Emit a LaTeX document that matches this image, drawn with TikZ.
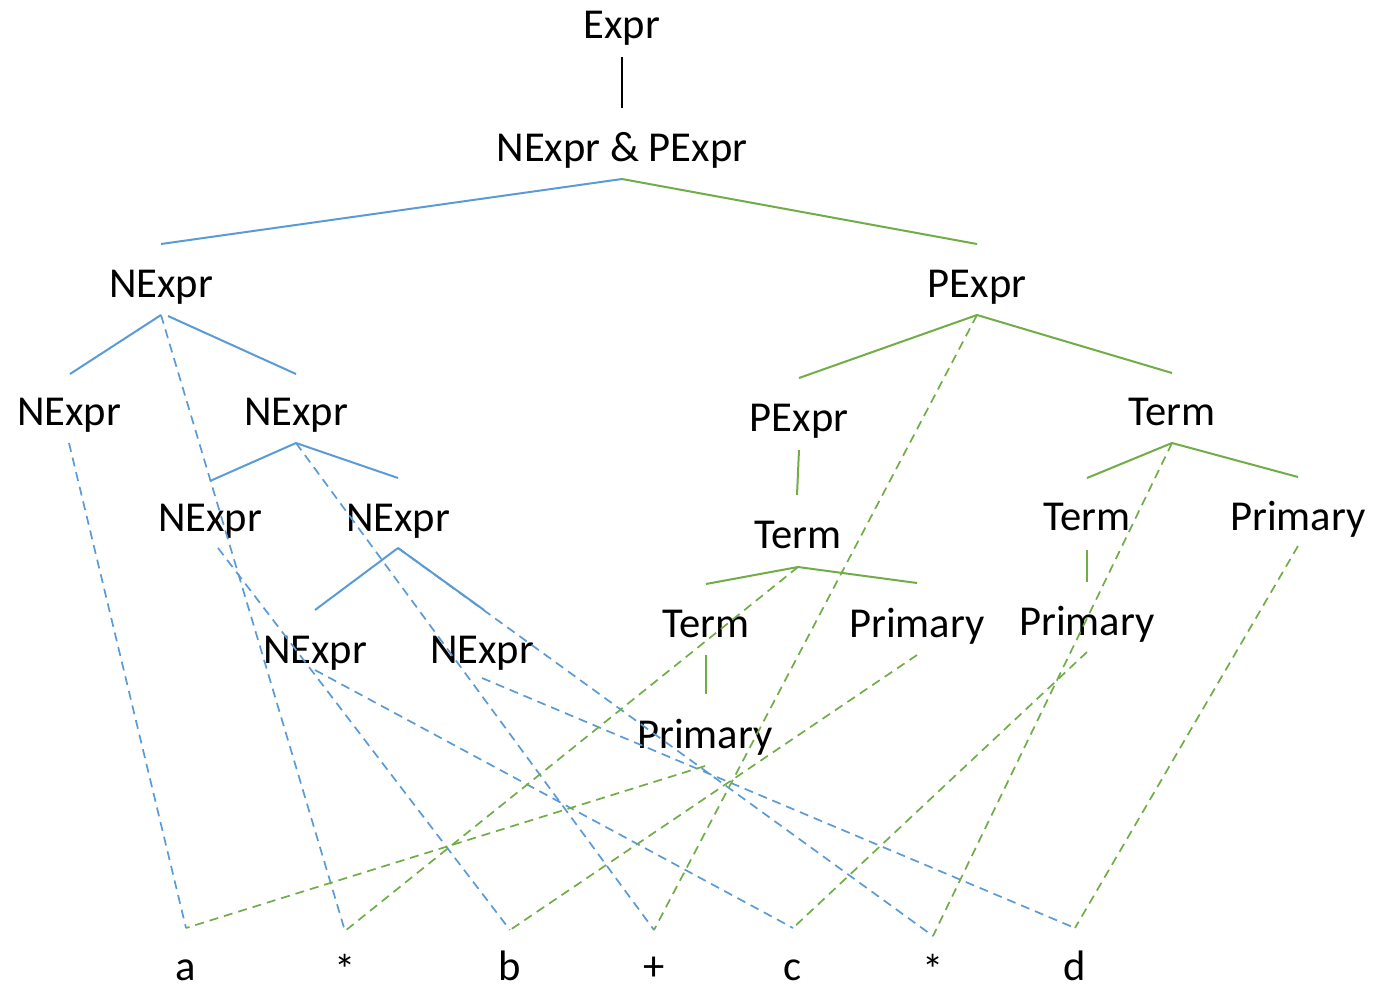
\documentclass[tikz,border=0pt]{standalone}
\usepackage{fontspec}
\setmainfont{Carlito}
\definecolor{nblue}{HTML}{5B9BD5}
\definecolor{pgreen}{HTML}{70AD47}
\begin{document}
\begin{tikzpicture}[x=0.5pt,y=-0.5pt,
  lbl/.style={anchor=base, inner sep=0pt, font=\fontsize{21.3}{25}\selectfont},
  stem/.style={draw=black, line width=1pt},
  nsolid/.style={draw=nblue, line width=1pt},
  psolid/.style={draw=pgreen, line width=1pt},
  ndash/.style={draw=nblue, line width=0.85pt, dash pattern=on 4.5pt off 3pt},
  pdash/.style={draw=pgreen, line width=0.85pt, dash pattern=on 4.5pt off 3pt}]
\useasboundingbox (0,0) rectangle (1383,986);

% labels
\node[lbl] (expr) at (622,38) {Expr};
\node[lbl] (both) at (622,161) {NExpr \& PExpr};
\node[lbl] (n1) at (161,297) {NExpr};
\node[lbl] (p1) at (977,297) {PExpr};
\node[lbl] (n2a) at (69,425) {NExpr};
\node[lbl] (n2b) at (296,425) {NExpr};
\node[lbl] (p2a) at (799,431) {PExpr};
\node[lbl] (t2b) at (1172,425) {Term};
\node[lbl] (n3a) at (210,531) {NExpr};
\node[lbl] (n3b) at (398,531) {NExpr};
\node[lbl] (t3a) at (798,548) {Term};
\node[lbl] (t3b) at (1087,530) {Term};
\node[lbl] (pr3c) at (1298,530) {Primary};
\node[lbl] (n4a) at (315,663) {NExpr};
\node[lbl] (n4b) at (482,663) {NExpr};
\node[lbl] (t4a) at (706,637) {Term};
\node[lbl] (pr4b) at (917,637) {Primary};
\node[lbl] (pr4c) at (1087,635) {Primary};
\node[lbl] (pr5) at (705,748) {Primary};
\node[lbl] (ta) at (186,980) {a};
\node[lbl] (tm1) at (345,984) {*};
\node[lbl] (tb) at (510,980) {b};
\node[lbl] (tp) at (654,980) {+};
\node[lbl] (tc) at (793,980) {c};
\node[lbl] (tm2) at (933,984) {*};
\node[lbl] (td) at (1075,980) {d};

% connector ends
\coordinate (expr-d) at (622,57);
\coordinate (both-u) at (622,108);
\coordinate (both-d) at (622,179);
\coordinate (n1-u) at (161,244);
\coordinate (p1-u) at (977,244);
\coordinate (n1-d) at (161,315);
\coordinate (n1-dr) at (168,316);
\coordinate (p1-d) at (977,315);
\coordinate (n2a-u) at (70,374);
\coordinate (n2b-u) at (296,374);
\coordinate (p2a-u) at (799,378);
\coordinate (t2b-u) at (1172,373);
\coordinate (n2a-d) at (69,443);
\coordinate (n2b-d) at (296,443);
\coordinate (p2a-d) at (799,450);
\coordinate (t2b-d) at (1172,443);
\coordinate (n3a-u) at (210,481);
\coordinate (n3b-u) at (398,478);
\coordinate (t3a-u) at (797,495);
\coordinate (t3b-u) at (1087,478);
\coordinate (pr3c-u) at (1298,477);
\coordinate (n3a-d) at (218,548);
\coordinate (n3b-d) at (398,548);
\coordinate (t3a-d) at (798,567);
\coordinate (t3b-d) at (1087,550);
\coordinate (pr3c-d) at (1298,546);
\coordinate (n4a-u) at (315,610);
\coordinate (n4b-u) at (484,610);
\coordinate (t4a-u) at (706,584);
\coordinate (pr4b-u) at (917,583);
\coordinate (pr4c-u) at (1087,582);
\coordinate (n4a-d) at (315,670);
\coordinate (n4b-d) at (482,678);
\coordinate (t4a-d) at (706,655);
\coordinate (pr4b-d) at (917,655);
\coordinate (pr4c-d) at (1087,652);
\coordinate (pr5-u) at (706,694);
\coordinate (pr5-d) at (705,766);
\coordinate (ta-u) at (186,928);
\coordinate (tm1-u) at (345,931);
\coordinate (tb-u) at (510,930);
\coordinate (tp-u) at (654,930);
\coordinate (tc-u) at (793,928);
\coordinate (tm2-u) at (933,936);
\coordinate (td-u) at (1075,928);

% top stem
\draw[stem] (expr-d) -- (both-u);

% NExpr tree
\draw[nsolid] (both-d) -- (n1-u);
\draw[nsolid] (n1-d) -- (n2a-u);
\draw[nsolid] (n1-dr) -- (n2b-u);
\draw[nsolid] (n2b-d) -- (n3a-u);
\draw[nsolid] (n2b-d) -- (n3b-u);
\draw[nsolid] (n3b-d) -- (n4a-u);
\draw[nsolid] (n3b-d) -- (n4b-u);

% PExpr tree
\draw[psolid] (both-d) -- (p1-u);
\draw[psolid] (p1-d) -- (p2a-u);
\draw[psolid] (p1-d) -- (t2b-u);
\draw[psolid] (p2a-d) -- (t3a-u);
\draw[psolid] (t2b-d) -- (t3b-u);
\draw[psolid] (t2b-d) -- (pr3c-u);
\draw[psolid] (t3a-d) -- (t4a-u);
\draw[psolid] (t3a-d) -- (pr4b-u);
\draw[psolid] (t3b-d) -- (pr4c-u);
\draw[psolid] (t4a-d) -- (pr5-u);

% NExpr links to tokens
\draw[ndash] (n2a-d) -- (ta-u);
\draw[ndash] (n1-d) -- (tm1-u);
\draw[ndash] (n3a-d) -- (tb-u);
\draw[ndash] (n2b-d) -- (tp-u);
\draw[ndash] (n4a-d) -- (tc-u);
\draw[ndash] (n3b-d) -- (tm2-u);
\draw[ndash] (n4b-d) -- (td-u);

% PExpr links to tokens
\draw[pdash] (pr5-d) -- (ta-u);
\draw[pdash] (t3a-d) -- (tm1-u);
\draw[pdash] (pr4b-d) -- (tb-u);
\draw[pdash] (p1-d) -- (tp-u);
\draw[pdash] (pr4c-d) -- (tc-u);
\draw[pdash] (t2b-d) -- (tm2-u);
\draw[pdash] (pr3c-d) -- (td-u);
\end{tikzpicture}
\end{document}
